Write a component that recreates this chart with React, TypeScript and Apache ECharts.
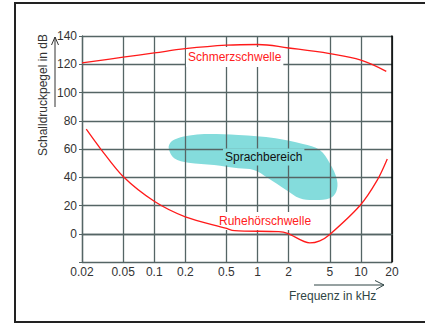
import React, { useEffect, useRef } from "react";
import * as echarts from "echarts";

const freqTicks = [0.02, 0.05, 0.1, 0.2, 0.5, 1, 2, 5, 10, 20];
const dbTicks = [-20, 0, 20, 40, 60, 80, 100, 120, 140];

const painFreq = [0.02, 0.05, 0.1, 0.2, 0.5, 1, 2, 5, 10, 17.6];
const painDb = [121, 125, 128, 131, 133.5, 134, 131.5, 127.5, 123, 115];

const quietFreq = [0.022, 0.03, 0.05, 0.1, 0.2, 0.49, 0.6, 1.6, 1.95, 3.2, 4, 5, 9.8, 14.4, 18];
const quietDb = [74, 60.5, 40.5, 23, 12, 4, 2.2, 1.5, 0.3, -6.5, -5, -0.5, 20, 38, 53];

const speechFreq = [0.138, 0.145, 0.169, 0.22, 0.306, 0.651, 1.49, 2.75, 4.0, 5.0, 5.87, 5.77, 5.0, 3.44, 2.56, 1.89, 1.27, 0.919, 0.651, 0.379, 0.214, 0.156];
const speechDb = [60.5, 65, 67.6, 69.5, 70.6, 69.9, 67.6, 63.5, 59.3, 49.9, 38.1, 29.8, 25.1, 23.9, 25.1, 31, 39.3, 45.1, 46.3, 48.7, 50.3, 53.4];

const labels = {
  pain: "Schmerzschwelle",
  quiet: "Ruhehörschwelle",
  speech: "Sprachbereich",
  xName: "Frequenz in kHz",
  yName: "Schalldruckpegel in dB",
};

const FONT = "'Liberation Sans', Arial, sans-serif";
const GRID = "#556565";
const CYAN = "#84dcdc";

export default function App() {
  const ref = useRef<HTMLDivElement>(null);
  useEffect(() => {
    if (!ref.current) return;
    const chart = echarts.init(ref.current, null, { renderer: "svg" });
    chart.setOption({
      animation: false,
      backgroundColor: "#ffffff",
      grid: { left: 82, top: 36, right: 33, bottom: 61 },
      xAxis: {
        type: "log",
        min: 0.02,
        max: 20,
        axisLine: { show: true, lineStyle: { color: GRID, width: 1.3 } },
        axisTick: { show: false, customValues: freqTicks },
        axisLabel: {
          customValues: freqTicks,
          color: "#333",
          fontFamily: FONT,
          fontSize: 12,
          margin: 4,
          formatter: (v: number) => String(v),
        },
        splitLine: { show: true, lineStyle: { color: GRID, width: 1.3 } },
        minorSplitLine: { show: false },
      },
      yAxis: [
        {
          type: "value",
          min: -20,
          max: 140,
          interval: 20,
          axisLine: { show: true, lineStyle: { color: GRID, width: 1.3 } },
          axisTick: { show: true, length: 3, lineStyle: { color: GRID } },
          axisLabel: {
            color: "#333",
            fontFamily: FONT,
            fontSize: 12,
            margin: 5,
            formatter: (v: number) => (v < 0 ? "" : String(v)),
          },
          splitLine: { show: true, lineStyle: { color: GRID, width: 1.3 } },
        },
        {
          type: "value",
          min: -20,
          max: 140,
          interval: 20,
          position: "right",
          axisLine: { show: true, lineStyle: { color: "#000", width: 1.5 } },
          axisTick: { show: false },
          axisLabel: { show: false },
          splitLine: { show: false },
        },
      ],
      series: [
        {
          type: "custom",
          z: -1,
          coordinateSystem: "cartesian2d",
          data: speechFreq.map((f, i) => [f, speechDb[i]]),
          renderItem: (params: any, api: any) => {
            if (params.dataIndex !== 0) return null;
            const pts = speechFreq.map((f, i) => api.coord([f, speechDb[i]]));
            return {
              type: "polygon",
              shape: { points: pts, smooth: 0.35 },
              style: { fill: CYAN, stroke: "none" },
            };
          },
          silent: true,
        },
        {
          type: "line",
          z: 3,
          data: painFreq.map((f, i) => [f, painDb[i]]),
          smooth: 0.4,
          showSymbol: false,
          symbol: "none",
          lineStyle: { color: "#ff1a1a", width: 1.3 },
        },
        {
          type: "line",
          z: 3,
          data: quietFreq.map((f, i) => [f, quietDb[i]]),
          smooth: 0.3,
          showSymbol: false,
          symbol: "none",
          lineStyle: { color: "#ff1a1a", width: 1.3 },
        },
      ],
      graphic: [
        {
          type: "rect",
          shape: { x: 15, y: 3, width: 420, height: 319 },
          style: { fill: "none", stroke: "#222", lineWidth: 2 },
          silent: true,
        },
        {
          type: "text",
          z: 1,
          x: 186,
          y: 57,
          style: {
            text: labels.pain,
            fill: "#ff2020",
            font: `12px ${FONT}`,
            verticalAlign: "middle",
            backgroundColor: "#ffffff",
            padding: [4, 2, 4, 2],
          },
        },
        {
          type: "text",
          z: 1,
          x: 217,
          y: 221,
          style: {
            text: labels.quiet,
            fill: "#ff2020",
            font: `12px ${FONT}`,
            verticalAlign: "middle",
            backgroundColor: "#ffffff",
            padding: [3, 2, 3, 2],
          },
        },
        {
          type: "text",
          z: 1,
          x: 223,
          y: 157,
          style: {
            text: labels.speech,
            fill: "#111",
            font: `12px ${FONT}`,
            verticalAlign: "middle",
            backgroundColor: CYAN,
            padding: [3, 2, 2, 2],
          },
        },
        {
          type: "text",
          x: 289,
          y: 296,
          style: { text: labels.xName, fill: "#2f4545", font: `12px ${FONT}`, verticalAlign: "middle" },
        },
        {
          type: "text",
          x: 43,
          y: 95,
          rotation: Math.PI / 2,
          style: { text: labels.yName, fill: "#333", font: `12px ${FONT}`, align: "center", verticalAlign: "middle" },
        },
        {
          type: "polyline",
          shape: { points: [[55, 107], [55, 37]] },
          style: { stroke: "#333", lineWidth: 1, fill: "none" },
        },
        {
          type: "polyline",
          shape: { points: [[51.5, 45], [55, 37], [58.5, 45]] },
          style: { stroke: "#333", lineWidth: 1, fill: "none" },
        },
        {
          type: "polyline",
          shape: { points: [[314, 285], [384, 285]] },
          style: { stroke: "#2f4545", lineWidth: 1, fill: "none" },
        },
        {
          type: "polyline",
          shape: { points: [[375, 280.5], [384, 285], [376, 289.5]] },
          style: { stroke: "#2f4545", lineWidth: 1, fill: "none" },
        },
      ],
    });
    return () => chart.dispose();
  }, []);
  return (
    <div
      ref={ref}
      style={{ position: "fixed", left: 0, top: 0, width: 425, height: 323 }}
    />
  );
}
